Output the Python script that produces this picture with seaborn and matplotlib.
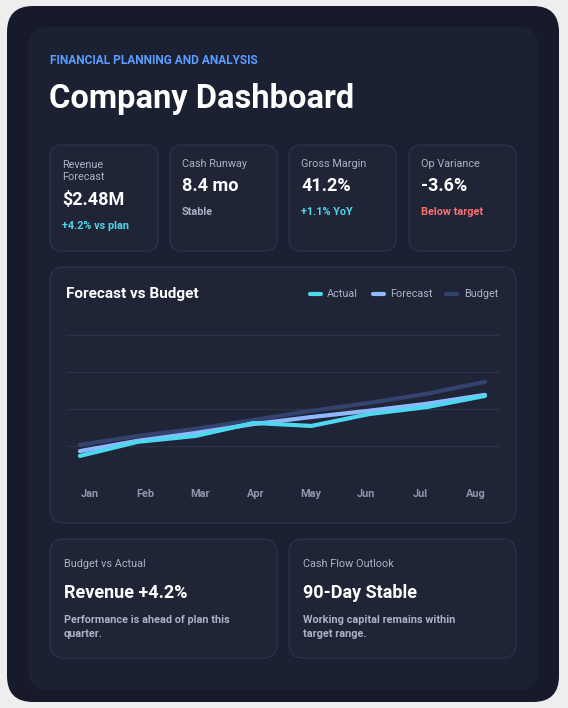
import matplotlib
matplotlib.use("Agg")
import matplotlib.pyplot as plt
from matplotlib.patches import FancyBboxPatch
import seaborn as sns
import pandas as pd

months = ["Jan", "Feb", "Mar", "Apr", "May", "Jun", "Jul", "Aug"]
actual = [0.73, 1.11, 1.27, 1.62, 1.54, 1.86, 2.05, 2.35]
forecast = [0.86, 1.14, 1.35, 1.59, 1.78, 1.95, 2.14, 2.38]
budget = [1.03, 1.27, 1.46, 1.70, 1.95, 2.16, 2.41, 2.73]

kpi_labels = ["Revenue\nForecast", "Cash Runway", "Gross Margin", "Op Variance"]
kpi_values = ["$2.48M", "8.4 mo", "41.2%", "-3.6%"]
kpi_notes = ["+4.2% vs plan", "Stable", "+1.1% YoY", "Below target"]
kpi_note_colors = ["#4fd6ea", "#aab3c5", "#4fd6ea", "#f87171"]

sns.set_theme(style="dark")
plt.rcParams["font.family"] = ["Roboto", "DejaVu Sans"]

W, H = 568, 708
fig = plt.figure(figsize=(W / 100, H / 100), dpi=100)
fig.patch.set_facecolor("#eeeeee")


def box(x0, y0, x1, y1, r, fc, ec="none", lw=1):
    p = FancyBboxPatch((x0, H - y1), x1 - x0, y1 - y0,
                       boxstyle=f"round,pad=0,rounding_size={r}",
                       transform=None, fc=fc, ec=ec, lw=lw, zorder=-5)
    fig.patches.append(p)


def txt(x, y, s, size, color, weight="normal", **kw):
    fig.text(x / W, 1 - y / H, s, fontsize=size, color=color,
             fontweight=weight, va="center", **kw)


box(7, 6, 559, 702, 26, "#161a2b")
box(28, 27, 538, 690, 20, "#1b2033")

txt(50, 60, "FINANCIAL PLANNING AND ANALYSIS", 8.6, "#5b9dff", "bold")
txt(49, 99, "Company Dashboard", 23.5, "#ffffff", "bold")

card_x = [(50, 158), (170, 277), (289, 396), (409, 516)]
for i, (x0, x1) in enumerate(card_x):
    box(x0, 145, x1, 251, 12, "#1f2537", "#2b3247")
    if "\n" in kpi_labels[i]:
        txt(62, 171, kpi_labels[i], 7.8, "#aab3c5", linespacing=1.2)
        vy, ny = 200, 226
    else:
        txt(x0 + 12, 164, kpi_labels[i], 7.8, "#aab3c5")
        vy, ny = 186, 212
    txt(x0 + 12, vy, kpi_values[i], 13, "#ffffff", "bold")
    txt(x0 + 12, ny, kpi_notes[i], 7.8, kpi_note_colors[i], "bold")

box(50, 267, 516, 523, 14, "#1f2537", "#2b3247")
txt(66, 294, "Forecast vs Budget", 11, "#ffffff", "bold")

bottom = [(50, 277, "Budget vs Actual", "Revenue +4.2%", "Performance is ahead of plan this\nquarter."),
          (289, 516, "Cash Flow Outlook", "90-Day Stable", "Working capital remains within\ntarget range.")]
for x0, x1, lab, val, note in bottom:
    box(x0, 539, x1, 658, 14, "#1f2537", "#2b3247")
    txt(x0 + 14, 564, lab, 7.8, "#aab3c5")
    txt(x0 + 14, 593, val, 13, "#ffffff", "bold")
    txt(x0 + 14, 627, note, 7.8, "#aab3c5", "bold", linespacing=1.5)

df = pd.DataFrame({
    "month": list(range(len(months))) * 3,
    "value": actual + forecast + budget,
    "series": ["Actual"] * 8 + ["Forecast"] * 8 + ["Budget"] * 8,
})
palette = {"Actual": "#4dd8f0", "Forecast": "#8fb8ff", "Budget": "#33436e"}

ax = fig.add_axes([66 / W, 1 - 470 / H, (500 - 66) / W, 150 / H])
ax.set_zorder(5)
ax.set_facecolor("none")
sns.lineplot(data=df, x="month", y="value", hue="series", palette=palette,
             hue_order=["Budget", "Forecast", "Actual"], lw=3, legend=False, ax=ax)
ax.set_xlim(-0.24, 7.26)
ax.set_ylim(0.35, 4.4)
ax.set_yticks([1, 2, 3, 4])
ax.grid(axis="y", color="#2c3246", lw=1)
ax.grid(axis="x", visible=False)
ax.tick_params(left=False, bottom=False, labelleft=False, labelbottom=False)
ax.set_xlabel("")
ax.set_ylabel("")
for s in ax.spines.values():
    s.set_visible(False)

for i, m in enumerate(months):
    fig.text((90 + i * 55.1) / W, 1 - 494 / H, m, fontsize=7.8, color="#8f98ab",
             fontweight="bold", ha="center", va="center")

# legend
leg = [("Actual", 310, 327), ("Forecast", 373, 390), ("Budget", 446, 464)]
for name, lx, tx in leg:
    fig.lines.append(plt.Line2D([lx / W, (lx + 11) / W], [1 - 294 / H] * 2,
                                transform=fig.transFigure, color=palette[name],
                                lw=3, solid_capstyle="round"))
    txt(tx, 294, name, 7.8, "#aab3c5")

fig.savefig("out.png", dpi=100, facecolor=fig.get_facecolor())
